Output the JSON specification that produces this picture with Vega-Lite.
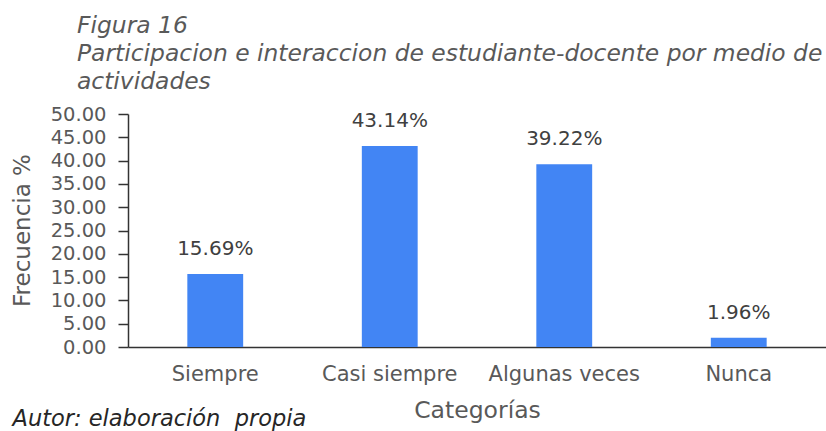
{
  "$schema": "https://vega.github.io/schema/vega-lite/v6.json",
  "width": 698,
  "height": 233,
  "autosize": {"type": "none"},
  "padding": {"left": 128, "top": 114, "right": 0, "bottom": 84},
  "background": "white",
  "config": {
    "view": {"stroke": null},
    "font": "DejaVu Sans",
    "axis": {"grid": false, "labelFont": "DejaVu Sans", "titleFont": "DejaVu Sans", "labelColor": "#595959", "titleColor": "#595959", "titleFontWeight": "normal", "domainColor": "#333333", "domainWidth": 1.5, "tickColor": "#333333", "tickWidth": 1.5}
  },
  "title": {
    "text": ["Figura 16", "Participacion e interaccion de estudiante-docente por medio de", "actividades"],
    "anchor": "start",
    "frame": "group",
    "dx": -51,
    "offset": 10,
    "font": "DejaVu Sans",
    "fontSize": 23.4,
    "fontStyle": "italic",
    "fontWeight": "normal",
    "color": "#595959",
    "lineHeight": 28
  },
  "data": {
    "values": [
      {"Categoria": "Siempre", "Frecuencia": 15.69, "Etiqueta": "15.69%"},
      {"Categoria": "Casi siempre", "Frecuencia": 43.14, "Etiqueta": "43.14%"},
      {"Categoria": "Algunas veces", "Frecuencia": 39.22, "Etiqueta": "39.22%"},
      {"Categoria": "Nunca", "Frecuencia": 1.96, "Etiqueta": "1.96%"}
    ]
  },
  "encoding": {
    "y": {
      "field": "Frecuencia", "type": "quantitative",
      "scale": {"domain": [0, 50], "nice": false},
      "axis": {"title": "Frecuencia %", "values": [0, 5, 10, 15, 20, 25, 30, 35, 40, 45, 50], "format": ".2f", "labelOverlap": false, "labelBound": false, "labelSeparation": 0, "tickSize": 10, "labelPadding": 12, "labelFontSize": 19.5, "labelBaseline": "middle", "titleFontSize": 23, "titleX": -106, "titleY": 116, "titleAngle": -90, "titleBaseline": "middle", "titleAlign": "center"}
    }
  },
  "layer": [
    {
      "mark": {"type": "bar", "color": "#4285F4"},
      "encoding": {
        "x": {
          "field": "Categoria", "type": "nominal", "sort": null,
          "scale": {"paddingInner": 0.68, "paddingOuter": 0.34},
          "axis": {"title": "Categorías", "labelAngle": 0, "ticks": false, "labelPadding": 16, "labelFontSize": 21, "titleFontSize": 23.5, "titleX": 349, "titleY": 63, "titleBaseline": "middle", "titleAlign": "center"}
        }
      }
    },
    {
      "mark": {"type": "text", "baseline": "alphabetic", "dy": -19, "fontSize": 20, "color": "#404040", "font": "DejaVu Sans"},
      "encoding": {
        "x": {
          "field": "Categoria", "type": "nominal", "sort": null,
          "axis": {"orient": "bottom", "labels": false, "ticks": false, "domain": false, "title": "Autor: elaboración\u00a0 propia", "titleFont": "DejaVu Sans", "titleFontSize": 22.5, "titleFontStyle": "italic", "titleColor": "#262626", "titleX": -116, "titleY": 71, "titleAlign": "left", "titleBaseline": "middle"}
        },
        "text": {"field": "Etiqueta", "type": "nominal"}
      }
    }
  ],
  "resolve": {"axis": {"x": "independent"}}
}
